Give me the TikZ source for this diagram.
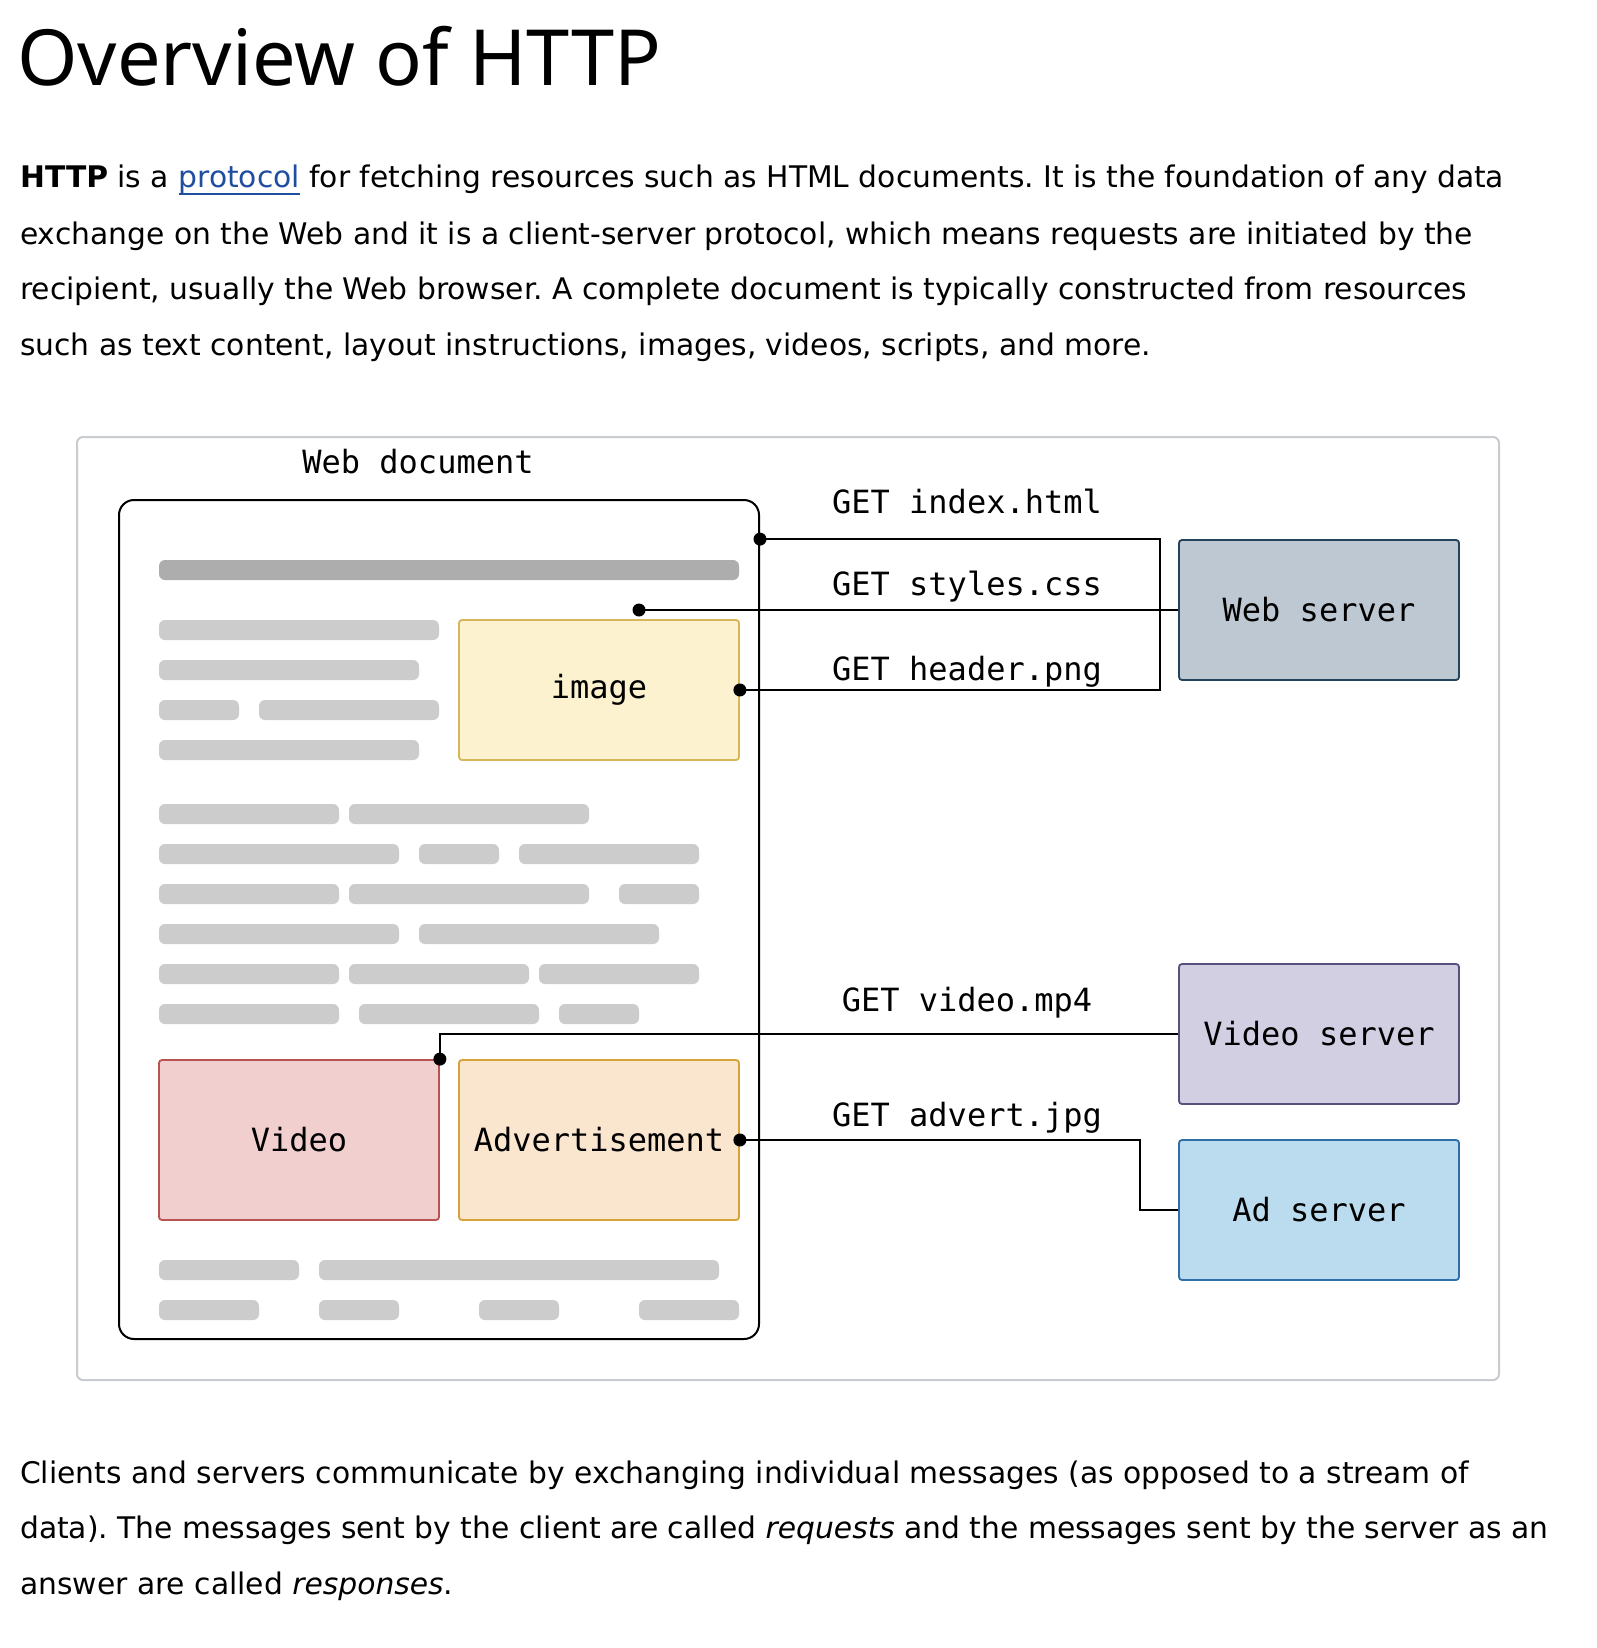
\documentclass[tikz,border=0pt]{standalone}
\usepackage{fontspec}
\setmainfont{DejaVu Sans}
\newfontfamily\titlefont{Noto Sans}
\newfontfamily\codefont{DejaVu Sans Mono}
\usetikzlibrary{positioning}
\frenchspacing

\definecolor{linkblue}{HTML}{1F4EA0}
\definecolor{framegray}{HTML}{C8CBCF}
\definecolor{barlight}{HTML}{CCCCCC}
\definecolor{bardark}{HTML}{ADADAD}
\definecolor{imgfill}{HTML}{FDF2D0}
\definecolor{imgdraw}{HTML}{D6B656}
\definecolor{vidfill}{HTML}{F1CFCF}
\definecolor{viddraw}{HTML}{B85450}
\definecolor{adfill}{HTML}{FAE6CF}
\definecolor{addraw}{HTML}{D6A23A}
\definecolor{websrvfill}{HTML}{BEC8D2}
\definecolor{websrvdraw}{HTML}{23445D}
\definecolor{vidsrvfill}{HTML}{D2CFE3}
\definecolor{vidsrvdraw}{HTML}{56517E}
\definecolor{adsrvfill}{HTML}{BBDCEF}
\definecolor{adsrvdraw}{HTML}{2F6FA5}

\newcommand{\weblink}[1]{{\color{linkblue}\setbox0\hbox{#1}\rlap{\rule[-7pt]{\wd0}{2pt}}\box0}}

\tikzset{
  bodytext/.style={anchor=base west, inner sep=0pt, font=\fontsize{29.75}{35}\selectfont},
  codelabel/.style={anchor=base, inner sep=0pt, font=\codefont\fontsize{32}{38}\selectfont},
  docbox/.style={draw, line width=2pt, rounded corners=15pt, inner sep=0pt},
  partbox/.style={draw, line width=1.8pt, rounded corners=3pt, inner sep=0pt,
    minimum width=280pt, font=\codefont\fontsize{32}{38}\selectfont},
  bar/.style={fill=barlight, rounded corners=6pt},
  wire/.style={line width=2pt},
}

\begin{document}
\begin{tikzpicture}[x=1pt,y=-1pt]
    \useasboundingbox (0,0) rectangle (1596,1648);
    \fill[white] (0,0) rectangle (1596,1648);

    % heading and text above
    \node[anchor=base west, inner sep=0pt, font=\titlefont\fontsize{77.5}{90}\selectfont] (title) at (17,86) {Overview of HTTP};
    \node[bodytext] (intro1) at (20,188) {\textbf{HTTP} is a \weblink{protocol} for fetching resources such as HTML documents. It is the foundation of any data};
    \node[bodytext] (intro2) at (20,244) {exchange on the Web and it is a client-server protocol, which means requests are initiated by the};
    \node[bodytext] (intro3) at (20,299) {recipient, usually the Web browser. A complete document is typically constructed from resources};
    \node[bodytext] (intro4) at (20,355) {such as text content, layout instructions, images, videos, scripts, and more.};

    % figure frame
    \draw[framegray, line width=2pt, rounded corners=6pt] (77,437) rectangle (1499,1380);

    % web document
    \node[codelabel] (doclabel) at (418,473) {Web document};
    \node[docbox, minimum width=640pt, minimum height=839pt] (webdoc) at (439,919.5) {};

    % text placeholders
    \fill[bardark, rounded corners=6pt] (159,560) rectangle (739,580);
    \fill[bar] (159,620) rectangle (439,640);
    \fill[bar] (159,660) rectangle (419,680);
    \fill[bar] (159,700) rectangle (239,720) (259,700) rectangle (439,720);
    \fill[bar] (159,740) rectangle (419,760);

    \fill[bar] (159,804) rectangle (339,824) (349,804) rectangle (589,824);
    \fill[bar] (159,844) rectangle (399,864) (419,844) rectangle (499,864) (519,844) rectangle (699,864);
    \fill[bar] (159,884) rectangle (339,904) (349,884) rectangle (589,904) (619,884) rectangle (699,904);
    \fill[bar] (159,924) rectangle (399,944) (419,924) rectangle (659,944);
    \fill[bar] (159,964) rectangle (339,984) (349,964) rectangle (529,984) (539,964) rectangle (699,984);
    \fill[bar] (159,1004) rectangle (339,1024) (359,1004) rectangle (539,1024) (559,1004) rectangle (639,1024);

    \fill[bar] (159,1260) rectangle (299,1280) (319,1260) rectangle (719,1280);
    \fill[bar] (159,1300) rectangle (259,1320) (319,1300) rectangle (399,1320)
               (479,1300) rectangle (559,1320) (639,1300) rectangle (739,1320);

    % parts of the page
    \node[partbox, minimum height=140pt, fill=imgfill, draw=imgdraw] (image) at (599,690) {image};
    \node[partbox, minimum height=160pt, fill=vidfill, draw=viddraw] (video) at (299,1140) {Video};
    \node[partbox, minimum height=160pt, fill=adfill, draw=addraw] (advert) at (599,1140) {Advertisement};

    % servers
    \node[partbox, minimum height=140pt, fill=websrvfill, draw=websrvdraw] (websrv) at (1319,610) {Web server};
    \node[partbox, minimum height=140pt, fill=vidsrvfill, draw=vidsrvdraw] (vidsrv) at (1319,1034) {Video server};
    \node[partbox, minimum height=140pt, fill=adsrvfill, draw=adsrvdraw] (adsrv) at (1319,1210) {Ad server};

    % requests
    \coordinate (idxdot) at (webdoc.east |- websrv.north);
    \coordinate (cssdot) at (639,610);
    \draw[wire] (image.east) -- ++(420,0) |- (idxdot);
    \draw[wire] (cssdot) -- (websrv.west);
    \draw[wire] (vidsrv.west) -| (video.north east);
    \draw[wire] (advert.east) -- ++(400,0) |- (adsrv.west);
    \foreach \p in {idxdot,cssdot,image.east,video.north east,advert.east}
        \fill (\p) circle (6.5pt);

    \node[codelabel] (getidx) at (967,513) {GET index.html};
    \node[codelabel] (getcss) at (967,595) {GET styles.css};
    \node[codelabel] (getpng) at (967,680) {GET header.png};
    \node[codelabel] (getmp4) at (967,1011) {GET video.mp4};
    \node[codelabel] (getjpg) at (967,1126) {GET advert.jpg};

    % text below
    \node[bodytext] (outro1) at (20,1483) {Clients and servers communicate by exchanging individual messages (as opposed to a stream of};
    \node[bodytext] (outro2) at (20,1538) {data). The messages sent by the client are called \textit{requests} and the messages sent by the server as an};
    \node[bodytext] (outro3) at (20,1594) {answer are called \textit{responses}.};

\end{tikzpicture}
\end{document}
